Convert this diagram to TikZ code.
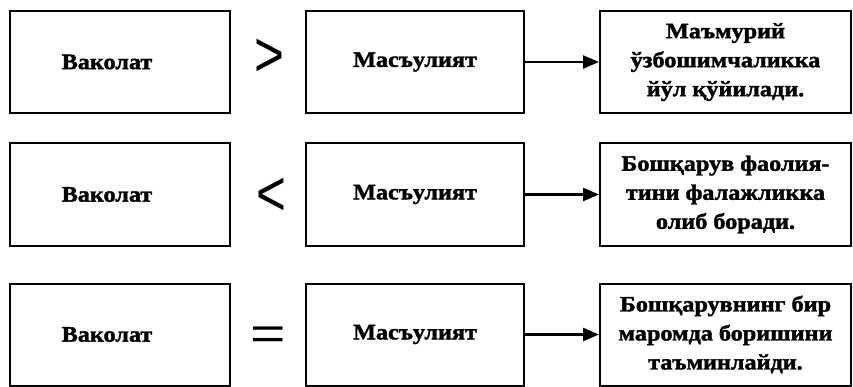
\documentclass[tikz,border=0pt]{standalone}
\usepackage{fontspec}
\setmainfont{Liberation Serif}
\newfontfamily\boxfont{Liberation Serif}[FakeStretch=1.1,FakeBold=1.8]
\newfontfamily\symfont{Liberation Sans}
\usetikzlibrary{arrows.meta}
\newcommand{\vakleftshift}{\hspace*{-26pt}}
\begin{document}
\begin{tikzpicture}[x=1pt,y=-1pt,
  box/.style={draw, line width=2pt, inner sep=0pt, align=center,
    font=\boxfont\bfseries\fontsize{22}{29}\selectfont},
  lbox/.style={box, minimum width=220pt, minimum height=102pt},
  mbox/.style={box, minimum width=218pt, minimum height=102pt},
  rbox/.style={box, minimum width=251pt, minimum height=102pt},
  sym/.style={inner sep=0pt, anchor=base, font=\symfont\fontsize{64}{64}\selectfont},
  arr/.style={line width=2.4pt, -{Triangle[length=16pt,width=13pt]}}]
\useasboundingbox (0,0) rectangle (853,387);
% row 1
\node[lbox] (l1) at (120,62) {\vakleftshift Ваколат};
\node[mbox] (m1) at (415,62) {Масъулият};
\node[rbox] (r1) at (725.5,62) {Маъмурий\\ўзбошимчаликка\\йўл қўйилади.};
\node[sym] (s1) at (269.5,77) {\scalebox{0.8}[1]{>}};
% row 2
\node[lbox] (l2) at (120,194.5) {\vakleftshift Ваколат};
\node[mbox] (m2) at (415,194.5) {Масъулият};
\node[rbox] (r2) at (725.5,194.5) {Бошқарув фаолия-\\тини фалажликка\\олиб боради.};
\node[sym] (s2) at (271.5,216) {\scalebox{0.8}[1]{<}};
% row 3
\node[lbox] (l3) at (120,334.5) {\vakleftshift Ваколат};
\node[mbox] (m3) at (415,334.5) {Масъулият};
\node[rbox] (r3) at (725.5,334.5) {Бошқарувнинг бир\\маромда боришини\\таъминлайди.};
\node[sym] (s3) at (268,349) {\scalebox{0.95}[0.72]{=}};
% arrows
\draw[arr] (m1) -- (r1);
\draw[arr] (m2) -- (r2);
\draw[arr] (m3) -- (r3);
\end{tikzpicture}
\end{document}
